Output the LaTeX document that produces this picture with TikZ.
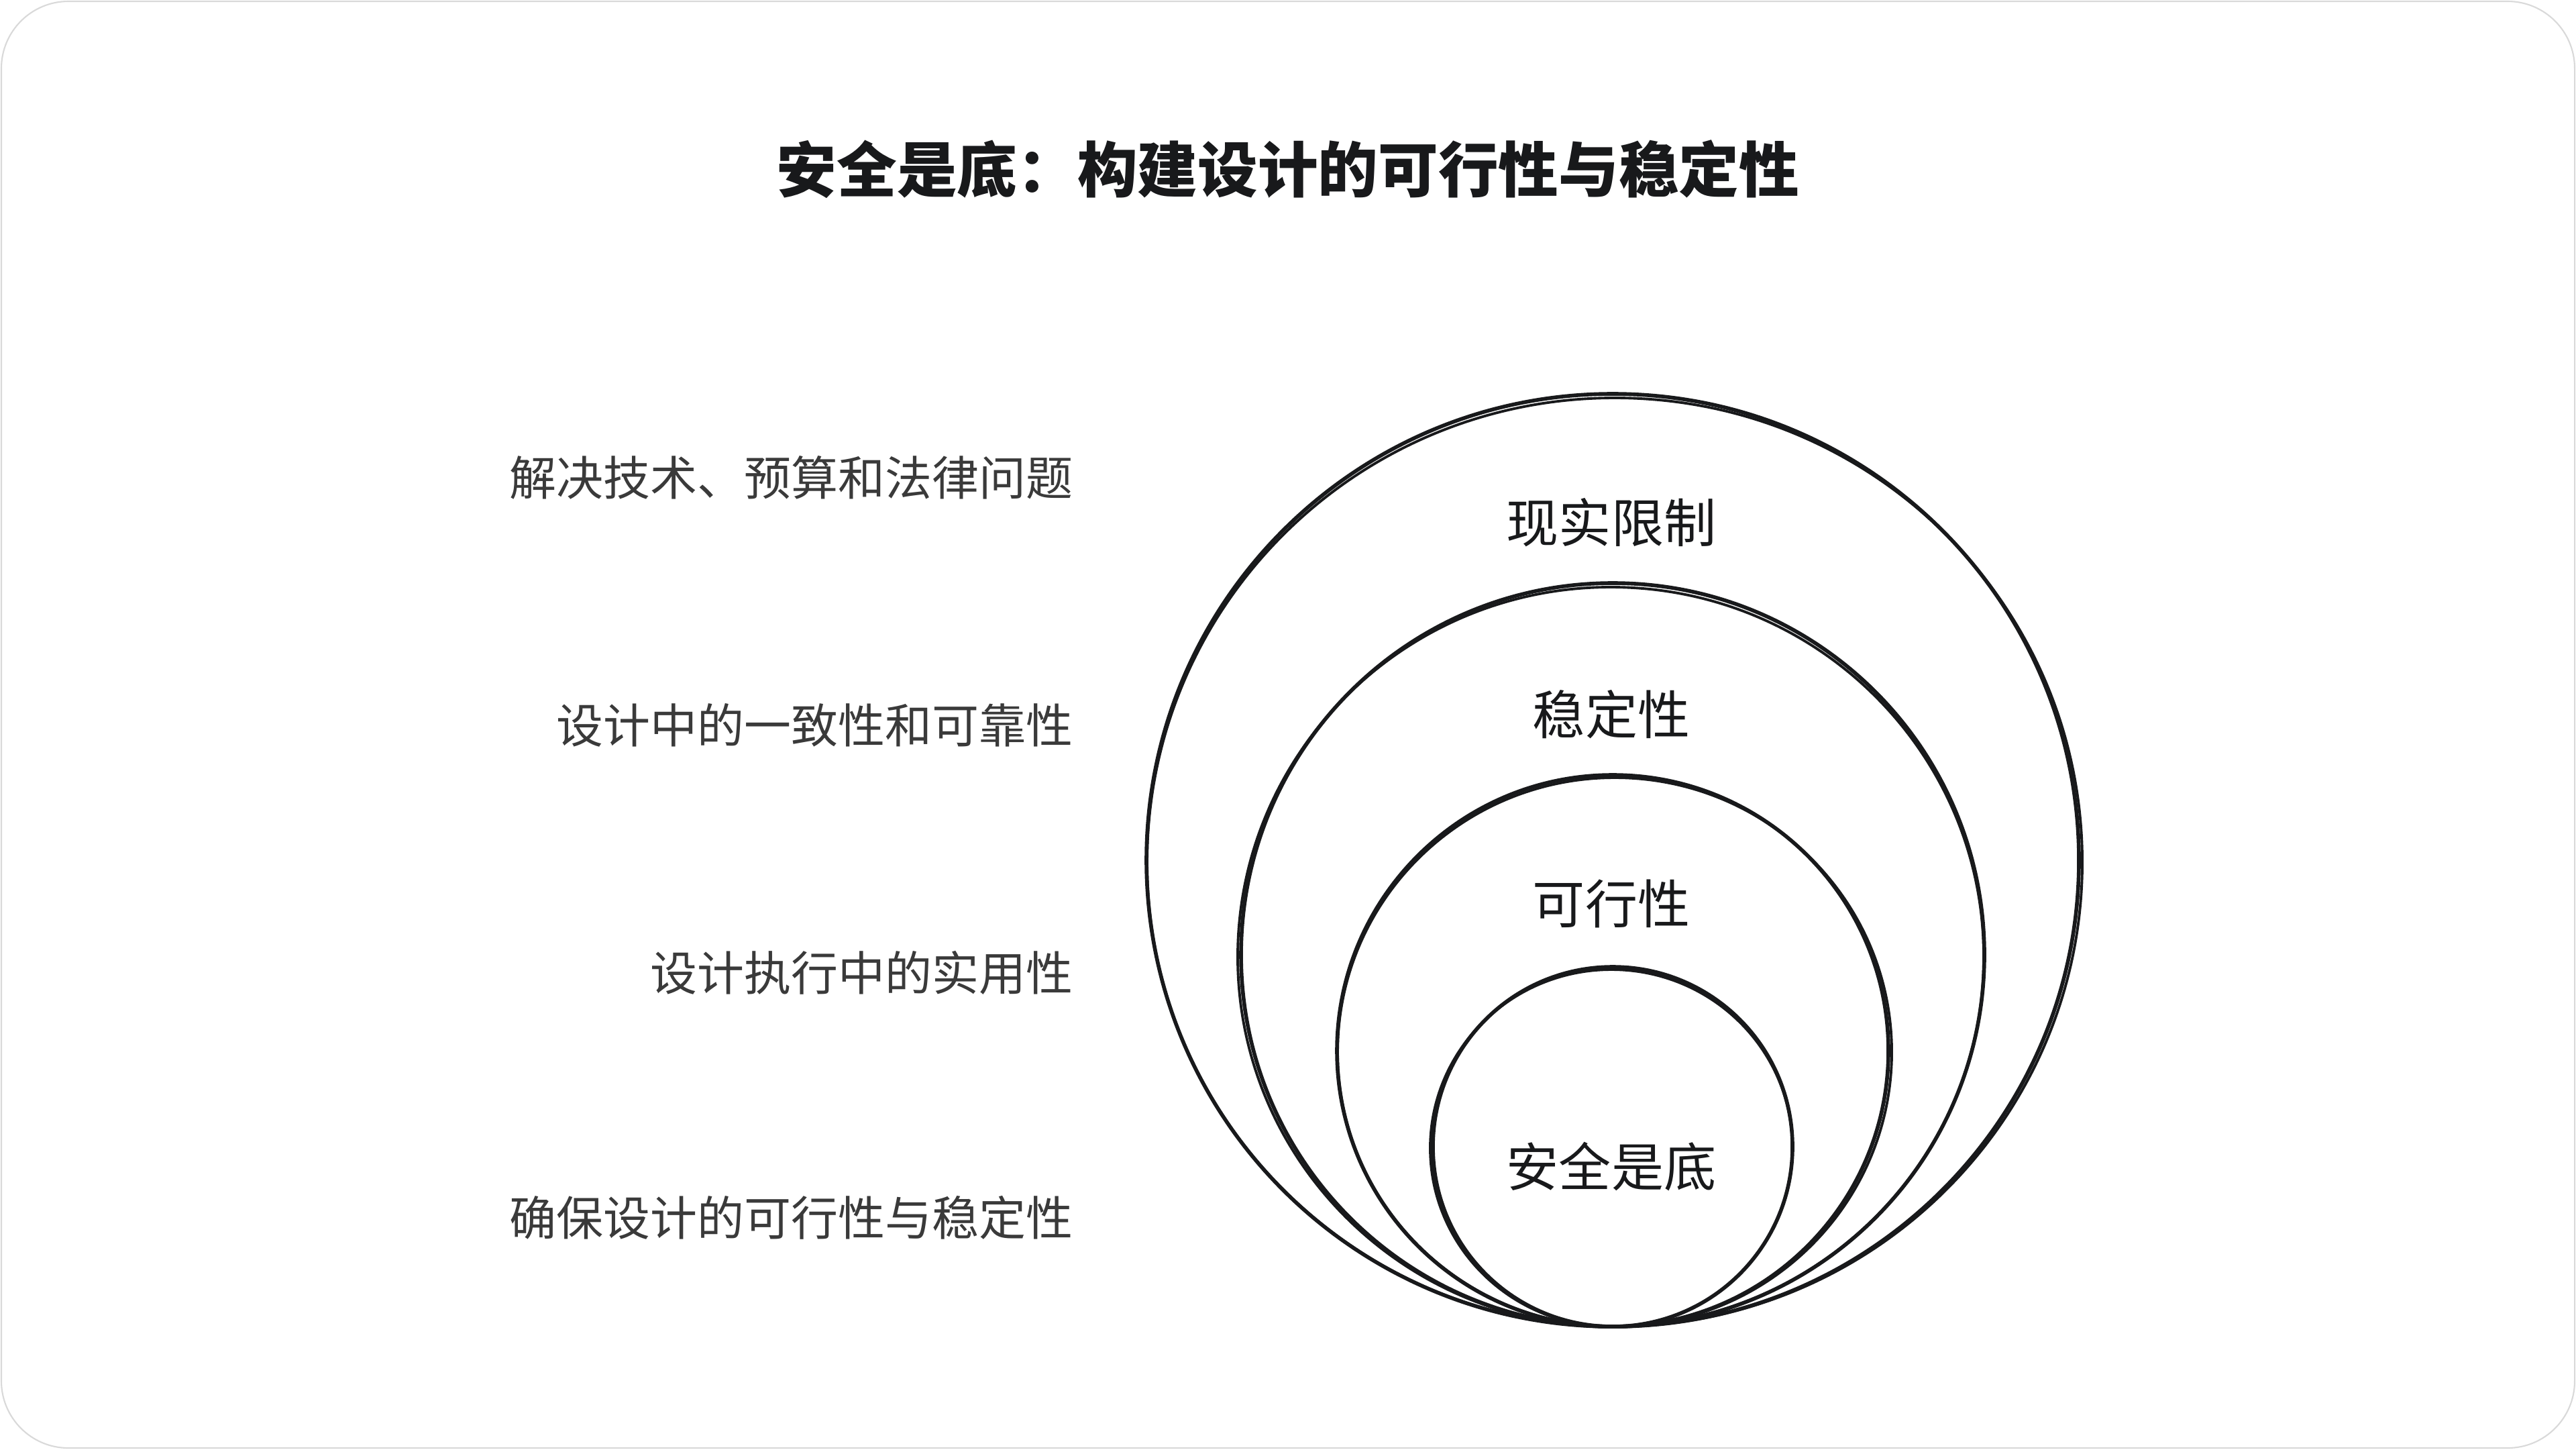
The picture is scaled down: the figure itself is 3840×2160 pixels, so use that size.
\documentclass[tikz,border=0pt]{standalone}
\usepackage{fontspec}
\setmainfont{Noto Sans CJK SC}
\definecolor{ink}{HTML}{18191B}
\definecolor{frame}{HTML}{D9D9D9}
\definecolor{side}{HTML}{3A3A3A}
\begin{document}
\begin{tikzpicture}[x=0.01cm,y=-0.01cm,
  sk/.style={draw=ink,line width=1.6pt},
  sk2/.style={draw=ink,line width=1.1pt},
  ringlabel/.style={text=ink,font=\fontsize{22.2pt}{26pt}\selectfont,inner sep=0pt},
  sidelabel/.style={text=side,font=\fontsize{19.9pt}{24pt}\selectfont,inner sep=0pt,anchor=east},
  titlelabel/.style={text=ink,font=\fontsize{25.5pt}{30pt}\selectfont\bfseries,inner sep=0pt}]
\useasboundingbox (0,0) rectangle (3840,2160);
\draw[frame,line width=0.6pt,rounded corners=1.0cm] (2,2) rectangle (3838,2158);
% title
\node[titlelabel] (title) at (1920,252) {安全是底：构建设计的可行性与稳定性};
% circles (hand-drawn look: two slightly offset strokes)
\draw[sk] (2404,1282) circle[radius=695];
\draw[sk2] (2407,1285) ellipse[x radius=697, y radius=692];
\draw[sk] (2404,1423) circle[radius=554];
\draw[sk2] (2401,1426) ellipse[x radius=556, y radius=551];
\draw[sk] (2404,1566) circle[radius=411];
\draw[sk2] (2407,1568) ellipse[x radius=413, y radius=409];
\draw[sk] (2404,1709) circle[radius=268];
\draw[sk2] (2402,1711) ellipse[x radius=270, y radius=266];
% ring labels
\node[ringlabel] (r1) at (2402,779) {现实限制};
\node[ringlabel] (r2) at (2402,1065) {稳定性};
\node[ringlabel] (r3) at (2402,1347) {可行性};
\node[ringlabel] (r4) at (2402,1739) {安全是底};
% side labels
\node[sidelabel] (s1) at (1600,712) {解决技术、预算和法律问题};
\node[sidelabel] (s2) at (1600,1081) {设计中的一致性和可靠性};
\node[sidelabel] (s3) at (1600,1450) {设计执行中的实用性};
\node[sidelabel] (s4) at (1600,1815) {确保设计的可行性与稳定性};
\end{tikzpicture}
\end{document}
